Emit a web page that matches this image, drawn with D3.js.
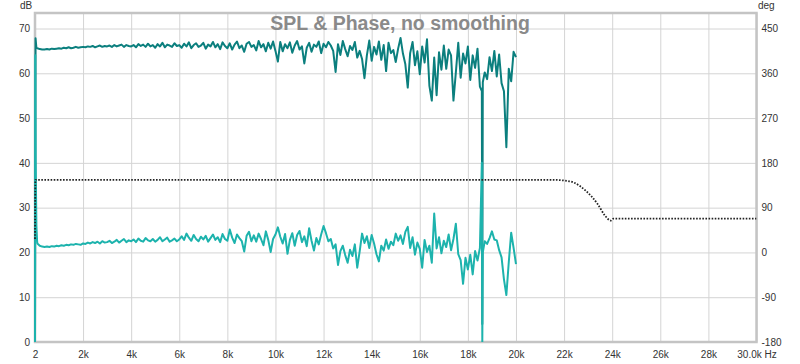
<!DOCTYPE html>
<html>
<head>
<meta charset="utf-8">
<script src="https://cdn.jsdelivr.net/npm/d3@7"></script>
<style>
  body { margin: 0; background: #fff; }
  text { font-family: "Liberation Sans", Arial, sans-serif; }
</style>
</head>
<body>
<div id="chart"></div>
<script>
// tick values / labels
var freqTicks = [2, 2000, 4000, 6000, 8000, 10000, 12000, 14000, 16000, 18000, 20000, 22000, 24000, 26000, 28000, 30000];
var freqLabels = ["2", "2k", "4k", "6k", "8k", "10k", "12k", "14k", "16k", "18k", "20k", "22k", "24k", "26k", "28k", "30.0k Hz"];
var dbTicks = [0, 10, 20, 30, 40, 50, 60, 70];
var degTicks = [-180, -90, 0, 90, 180, 270, 360, 450];

// SPL traces: values every 100 Hz from 100 Hz to 20 kHz
var freqStep = 100;
var darkLow = [[2, 0], [25, 67.8], [60, 65.7]];
var darkDb = [
  65.6, 65.4, 65.3, 65.3, 65.4, 65.3, 65.5, 65.4, 65.5, 65.6,
  65.5, 65.7, 65.6, 65.8, 65.6, 65.7, 65.9, 65.7, 65.8, 65.9,
  65.8, 66.0, 65.9, 66.1, 65.8, 66.0, 66.2, 65.9, 66.1, 66.0,
  66.2, 65.9, 66.3, 66.0, 66.2, 66.4, 65.9, 66.3, 66.1, 66.0,
  66.3, 65.8, 66.5, 66.1, 66.4, 65.9, 66.6, 66.0, 66.3, 65.7,
  66.5, 66.0, 66.8, 65.8, 66.4, 66.2, 65.9, 66.7, 66.1, 66.3,
  65.7, 66.6, 66.0, 66.9, 65.6, 66.3, 66.7, 65.9, 66.2, 66.8,
  65.5, 66.4, 66.0, 67.0, 65.8, 66.5, 65.4, 66.9, 66.1, 65.6,
  66.7, 65.3, 66.4, 67.1, 65.6, 66.2, 64.8, 66.6, 67.0, 65.9,
  66.3, 65.1, 67.2, 65.8, 66.5, 64.9, 66.8, 65.5, 67.1, 65.0,
  62.6, 67.0, 64.9, 66.5, 65.6, 66.9, 64.6, 66.2, 67.2, 65.3,
  66.0, 62.2, 65.7, 66.8, 64.8, 66.4, 65.9, 67.1, 64.5, 66.6,
  65.8, 67.0, 66.2, 65.0, 60.3, 66.5, 64.1, 67.2, 65.4, 63.8,
  66.1, 65.2, 67.0, 63.5, 65.0, 63.2, 58.9, 64.0, 67.3, 62.8,
  65.9, 64.2, 67.1, 63.0, 66.3, 60.5, 66.8, 64.5, 65.2, 62.5,
  65.5, 67.9, 64.4, 62.0, 56.8, 64.5, 67.0, 61.8, 64.9, 59.8,
  66.0, 62.4, 67.6, 57.2, 53.9, 63.5, 55.1, 64.7, 60.8, 66.2,
  61.0, 65.3, 64.0, 53.9, 60.2, 66.8, 59.0, 64.4, 62.2, 66.0,
  58.5, 64.0, 61.2, 65.5, 57.0, 60.0, 60.2, 58.7, 63.6, 60.5,
  65.0, 59.3, 64.2, 57.8, 56.0, 43.5, 61.0, 58.2, 64.8, 63.6
];
var darkSpike = [[18580, 56], [18600, 4], [18620, 58]];

var lightLow = [[2, 0], [12, 64], [30, 40], [60, 26], [90, 22.5]];
var lightDb = [
  22.0, 21.5, 21.3, 21.2, 21.3, 21.2, 21.4, 21.3, 21.5, 21.4,
  21.6, 21.5, 21.7, 21.6, 21.8, 21.7, 21.9, 21.8, 21.7, 22.0,
  21.9, 22.2, 22.0, 22.3, 22.1, 22.4, 22.0, 22.5, 22.2, 22.3,
  22.6, 22.1, 22.4, 22.8, 22.2, 22.6, 23.0, 22.3, 22.7, 22.5,
  22.9, 22.3, 23.1, 22.6, 22.4, 23.2, 22.7, 22.5, 23.0, 22.4,
  22.8, 23.4, 22.5, 22.9, 23.3, 22.4, 22.7, 23.1, 22.5, 22.9,
  23.6, 22.8, 24.2, 23.3, 22.6, 23.9, 23.0, 22.5, 23.5, 22.9,
  23.7, 22.4, 23.2, 24.0, 22.8, 23.4, 22.3, 24.1, 23.0, 22.6,
  25.1, 23.3, 22.1, 24.0, 23.2, 22.5, 20.2, 23.7, 24.6, 22.5,
  23.8, 22.4, 24.2, 23.0, 21.6, 24.7, 22.8, 20.1, 23.0, 24.0,
  25.6, 23.5, 22.0, 24.1, 19.7, 22.8, 24.3, 21.5, 23.9, 24.8,
  22.3, 23.6, 21.4, 25.4, 22.6, 20.4, 23.2, 21.8, 24.0, 25.9,
  24.3, 22.5, 23.0, 20.9, 21.8, 17.2, 20.3, 21.5, 19.4, 17.7,
  20.6, 19.2, 21.8, 16.6, 20.2, 24.2, 22.1, 23.6, 21.0, 23.9,
  22.0, 19.6, 18.0, 21.5, 20.4, 22.9, 20.8, 22.4, 21.6, 24.2,
  22.6, 23.8, 21.9, 24.6, 25.7, 21.0, 23.4, 19.5, 22.2, 20.8,
  16.6, 22.8, 20.1, 21.5, 17.7, 28.7, 20.9, 23.4, 19.8, 22.6,
  21.2, 24.0, 20.5, 23.0, 26.4, 19.6, 18.3, 13.0, 18.8, 16.2,
  19.5, 15.1, 20.3, 18.2, 21.0, 20.0, 22.5, 21.9, 23.2, 24.7,
  22.9, 22.7, 20.5, 18.9, 14.0, 10.5, 17.8, 24.4, 21.0, 17.4
];
var lightSpike = [[18580, 40], [18600, 0], [18620, 20]];

// phase (dotted, right axis, degrees)
var phaseHz = [2, 20, 21500, 22000, 22400, 22900, 23400, 23700, 23950, 24050, 30000];
var phaseDeg = [27, 146, 146, 144.5, 140.5, 124, 97, 74, 64, 68, 68];

var W = 800, H = 364;
var pLeft = 35, pRight = 756.5, pTop = 13, pBottom = 342;

var svg = d3.select("#chart").append("svg")
    .attr("width", W)
    .attr("height", H);

var x = d3.scaleLinear().domain([2, 30000]).range([pLeft, pRight]);
var y = d3.scaleLinear().domain([0, 70]).range([pBottom, 28.5]);
var yDeg = d3.scaleLinear().domain([-180, 450]).range([pBottom, 28.5]);

function buildSeries(low, vals, spike) {
    var pts = vals.map(function (v, i) { return [(i + 1) * freqStep, v]; })
        .filter(function (p) {
            return !spike.some(function (s) { return s[0] === p[0]; });
        });
    return low.concat(pts, spike).sort(function (a, b) { return a[0] - b[0]; });
}

// grid
svg.append("g")
    .attr("class", "grid")
    .attr("transform", "translate(0," + pBottom + ")")
    .call(d3.axisBottom(x).tickValues(freqTicks).tickSize(-(pBottom - pTop)).tickFormat(""));
svg.append("g")
    .attr("class", "grid")
    .attr("transform", "translate(" + pLeft + ",0)")
    .call(d3.axisLeft(y).tickValues(dbTicks).tickSize(-(pRight - pLeft)).tickFormat(""));
svg.selectAll(".grid .domain").remove();
svg.selectAll(".grid line").attr("stroke", "#d4d4d4").attr("stroke-width", 1);

// title (sits over the grid)
svg.append("text")
    .attr("x", 400)
    .attr("y", 30)
    .attr("text-anchor", "middle")
    .attr("font-size", "19.5px")
    .attr("font-weight", "bold")
    .attr("fill", "#8a8a8a")
    .text("SPL & Phase, no smoothing");

// frame
svg.append("rect")
    .attr("x", pLeft)
    .attr("y", pTop)
    .attr("width", pRight - pLeft)
    .attr("height", pBottom - pTop)
    .attr("fill", "none")
    .attr("stroke", "#c4c4c4")
    .attr("stroke-width", 2.5);

svg.append("clipPath").attr("id", "plotClip")
    .append("rect")
    .attr("x", pLeft - 1).attr("y", pTop)
    .attr("width", pRight - pLeft + 1).attr("height", pBottom - pTop);

var plot = svg.append("g").attr("clip-path", "url(#plotClip)");

var line = d3.line()
    .x(function (d) { return x(d[0]); })
    .y(function (d) { return y(d[1]); });

plot.append("path")
    .datum(buildSeries(darkLow, darkDb, darkSpike))
    .attr("fill", "none")
    .attr("stroke", "#0b7f7e")
    .attr("stroke-width", 2)
    .attr("stroke-linejoin", "round")
    .attr("d", line);

plot.append("path")
    .datum(buildSeries(lightLow, lightDb, lightSpike))
    .attr("fill", "none")
    .attr("stroke", "#1db3ad")
    .attr("stroke-width", 2)
    .attr("stroke-linejoin", "round")
    .attr("d", line);

var phaseLine = d3.line()
    .curve(d3.curveMonotoneX)
    .x(function (d) { return x(d[0]); })
    .y(function (d) { return yDeg(d[1]); });

plot.append("path")
    .datum(phaseHz.map(function (f, i) { return [f, phaseDeg[i]]; }))
    .attr("fill", "none")
    .attr("stroke", "#222")
    .attr("stroke-width", 1.8)
    .attr("stroke-dasharray", "1.6,1.5")
    .attr("d", phaseLine);

// axes labels
var xAxis = svg.append("g")
    .attr("transform", "translate(0," + pBottom + ")")
    .call(d3.axisBottom(x).tickValues(freqTicks).tickSize(0).tickPadding(9)
        .tickFormat(function (d, i) { return freqLabels[i]; }));
var yAxis = svg.append("g")
    .attr("transform", "translate(" + pLeft + ",0)")
    .call(d3.axisLeft(y).tickValues(dbTicks).tickSize(0).tickPadding(5)
        .tickFormat(function (d) { return String(d); }));
var yAxisR = svg.append("g")
    .attr("transform", "translate(" + pRight + ",0)")
    .call(d3.axisRight(yDeg).tickValues(degTicks).tickSize(0).tickPadding(5)
        .tickFormat(function (d) { return String(d); }));

[xAxis, yAxis, yAxisR].forEach(function (a) {
    a.select(".domain").remove();
    a.selectAll("text")
        .attr("fill", "#333")
        .attr("font-size", "10px")
        .attr("font-family", "'Liberation Sans', Arial, sans-serif");
});

svg.append("text")
    .attr("x", 20).attr("y", 9)
    .attr("font-size", "10px").attr("fill", "#333")
    .text("dB");
svg.append("text")
    .attr("x", 758).attr("y", 9)
    .attr("font-size", "10px").attr("fill", "#333")
    .text("deg");
</script>
</body>
</html>
